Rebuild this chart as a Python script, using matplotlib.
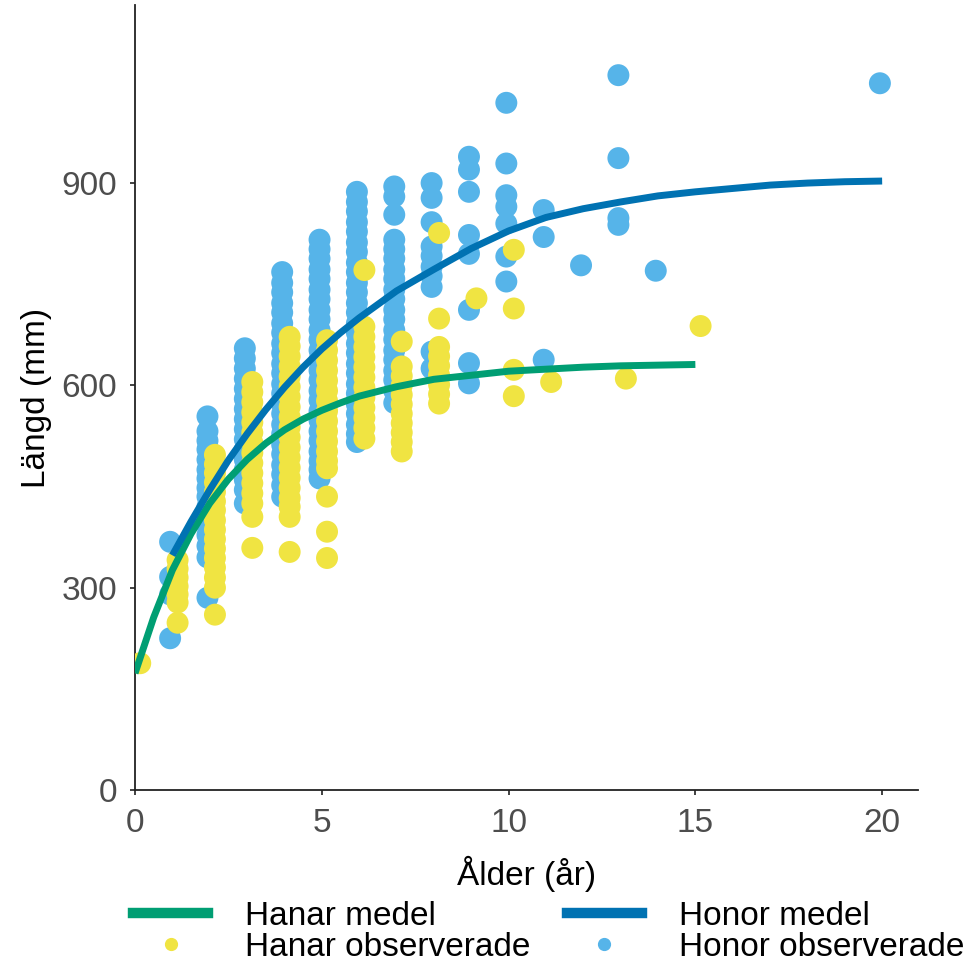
import matplotlib
matplotlib.use("Agg")
from matplotlib import pyplot as plt
from matplotlib.lines import Line2D

plt.rcParams['font.family'] = ['Liberation Sans', 'DejaVu Sans']

# observed lengths (mm) per age (years)
honor_obs = {
    1: [368, 316, 290, 225],
    2: [554, 532, 518, 505, 490, 475, 462, 448, 435, 420, 405, 392, 378, 362, 345, 285],
    3: [655, 640, 625, 610, 595, 580, 565, 550, 535, 520, 505, 490, 475, 460, 445, 425],
    4: [768, 752, 738, 722, 708, 692, 678, 662, 648, 632, 618, 602, 588, 572, 558, 542,
        528, 512, 498, 482, 468, 452, 435],
    5: [816, 802, 788, 772, 758, 742, 728, 712, 698, 682, 668, 652, 638, 622, 608, 592,
        578, 562, 548, 532, 518, 502, 488, 475, 462],
    6: [887, 872, 858, 842, 828, 812, 798, 782, 768, 752, 738, 722, 708, 692, 678, 662,
        648, 632, 618, 602, 588, 572, 558, 542, 528, 516],
    7: [895, 880, 853, 816, 802, 788, 772, 758, 742, 728, 712, 698, 682, 668, 652, 638,
        622, 608, 592, 574],
    8: [900, 878, 842, 806, 792, 776, 762, 746, 650, 625],
    9: [939, 920, 887, 823, 795, 712, 633, 603],
    10: [1019, 929, 882, 865, 840, 791, 754],
    11: [860, 820, 638],
    12: [778],
    13: [1060, 937, 848, 838],
    14: [770],
    20: [1048],
}

hanar_obs = {
    0: [188],
    1: [341, 328, 315, 302, 290, 278, 248],
    2: [497, 483, 470, 456, 442, 428, 415, 400, 386, 372, 358, 344, 330, 315, 300, 260],
    3: [605, 590, 575, 560, 545, 530, 515, 500, 485, 470, 455, 440, 425, 405, 359],
    4: [672, 658, 643, 628, 613, 598, 583, 568, 553, 538, 523, 508, 493, 478, 463, 448,
        433, 420, 405, 353],
    5: [667, 652, 637, 622, 607, 592, 577, 562, 547, 532, 517, 502, 488, 477, 435, 383, 344],
    6: [771, 687, 672, 657, 642, 627, 612, 597, 582, 567, 552, 537, 521],
    7: [665, 628, 614, 600, 586, 572, 558, 544, 530, 516, 502],
    8: [826, 699, 657, 643, 629, 615, 601, 587, 573],
    9: [729],
    10: [801, 714, 623, 584],
    11: [605],
    13: [610],
    15: [688],
}

# mean growth curves
hanar_age = [0, 0.5, 1, 1.5, 2, 2.5, 3, 3.5, 4, 4.5, 5, 5.5, 6, 7, 8, 9, 10, 11, 12, 13, 14, 15]
hanar_medel = [173, 256, 326, 380, 425, 461, 490, 514, 534, 550, 563, 574, 584, 598, 609,
               615, 621, 624, 627, 629, 630, 631]
honor_age = [1, 1.5, 2, 2.5, 3, 3.5, 4, 4.5, 5, 5.5, 6, 7, 8, 9, 10, 11, 12, 13, 14, 15,
             16, 17, 18, 19, 20]
honor_medel = [348, 398, 445, 489, 528, 564, 597, 627, 654, 678, 700, 740, 772, 803, 829,
               849, 862, 872, 881, 887, 892, 897, 900, 902, 903]

c_hon_pt = "#56B4E9"
c_han_pt = "#F0E442"
c_han_ln = "#009E73"
c_hon_ln = "#0072B2"


def flatten(d, shift):
    xs, ys = [], []
    for age, vals in d.items():
        xs += [age + shift] * len(vals)
        ys += vals
    return xs, ys


fig = plt.figure(figsize=(9.65, 9.68), dpi=100)
ax = fig.add_axes([0.1399, 0.1839, 0.8114, 0.8109])

hx, hy = flatten(honor_obs, -0.06)
mx, my = flatten(hanar_obs, 0.14)
ax.scatter(hx, hy, s=250, color=c_hon_pt, edgecolors="none", zorder=2)
ax.scatter(mx, my, s=250, color=c_han_pt, edgecolors="none", zorder=3)
ax.plot(hanar_age, hanar_medel, color=c_han_ln, lw=5, zorder=4,
        solid_capstyle="butt", solid_joinstyle="round")
ax.plot(honor_age, honor_medel, color=c_hon_ln, lw=5, zorder=5,
        solid_capstyle="butt", solid_joinstyle="round")

ax.set_xlim(0, 20.96)
ax.set_ylim(0, 1164)
ax.set_xticks([0, 5, 10, 15, 20])
ax.set_yticks([0, 300, 600, 900])
for s in ["top", "right"]:
    ax.spines[s].set_visible(False)
for s in ["left", "bottom"]:
    ax.spines[s].set_linewidth(1.3)
    ax.spines[s].set_color("#222222")
ax.tick_params(labelsize=24, labelcolor="#4D4D4D", length=3.5, width=1.3,
               color="#333333", pad=9.5)
ax.set_xlabel("Ålder (år)", fontsize=24, labelpad=12)
ax.set_ylabel("Längd (mm)", fontsize=24, labelpad=7)

handles = [
    Line2D([], [], color=c_han_ln, lw=7.5),
    Line2D([], [], color=c_han_pt, marker="o", ls="none", markersize=8.5),
    Line2D([], [], color=c_hon_ln, lw=7.5),
    Line2D([], [], color=c_hon_pt, marker="o", ls="none", markersize=8.5),
]
labels = ["Hanar medel", "Hanar observerade", "Honor medel", "Honor observerade"]
fig.legend(handles, labels, loc="upper left", bbox_to_anchor=(0.138, 0.0697), ncol=2,
           frameon=False, fontsize=24, handlelength=2.25, handletextpad=1.1,
           columnspacing=1.1, labelspacing=0.0, borderpad=0, borderaxespad=0)

fig.savefig("out.png", dpi=100)
